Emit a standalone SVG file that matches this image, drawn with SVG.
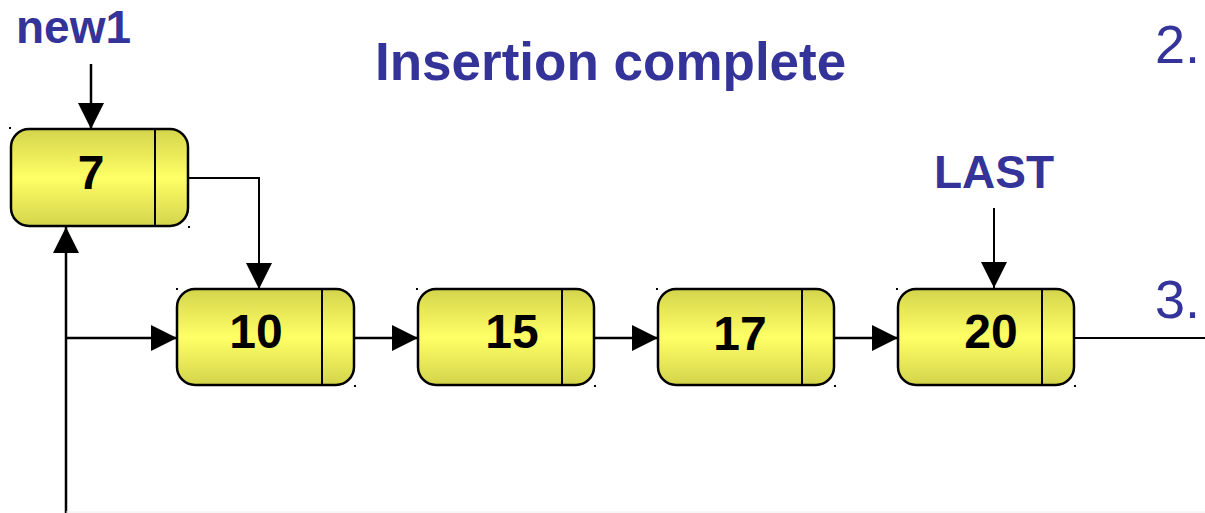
<svg xmlns="http://www.w3.org/2000/svg" width="1205" height="513" viewBox="0 0 1205 513">
  <style>
    .title { font-family: "Liberation Sans", Arial, sans-serif; font-weight: bold; fill: #333399; }
    .num { font-family: "Liberation Sans", Arial, sans-serif; font-size: 54px; fill: #333399; }
    .box { fill: url(#cellFill); stroke: #000; stroke-width: 2.5; }
    .div { stroke: #000; stroke-width: 2; }
    .val { font-family: "Liberation Sans", Arial, sans-serif; font-weight: bold; font-size: 48px; fill: #000; text-anchor: middle; }
    .link { fill: none; stroke: #000; stroke-width: 2.5; }
    .thin { fill: none; stroke: #000; stroke-width: 2; }
    .dot { fill: #000; }
  </style>
  <defs>
    <linearGradient id="cellFill" x1="0" y1="0" x2="0" y2="1">
      <stop offset="0" stop-color="#d4d44c"/>
      <stop offset="0.5" stop-color="#ffff66"/>
      <stop offset="1" stop-color="#d4d44c"/>
    </linearGradient>
    <marker id="head" markerUnits="userSpaceOnUse" markerWidth="26" markerHeight="26" refX="26" refY="13" orient="auto">
      <path d="M0,0 L26,13 L0,26 z" fill="#000"/>
    </marker>
  </defs>

  <rect width="1205" height="513" fill="#fff"/>

  <!-- labels -->
  <text class="title" x="16" y="43" font-size="46">new1</text>
  <text class="title" x="375" y="80" font-size="53">Insertion complete</text>
  <text class="title" x="934" y="188" font-size="46">LAST</text>
  <text class="num" x="1155" y="63">2.</text>
  <text class="num" x="1155" y="318">3.</text>

  <!-- connectors -->
  <g id="connectors">
    <line class="link" x1="91" y1="64" x2="91" y2="129" marker-end="url(#head)"/>
    <polyline class="thin" points="188,178 259,178 259,289" marker-end="url(#head)"/>
    <line class="link" x1="66" y1="513" x2="66" y2="227" marker-end="url(#head)"/>
    <line class="link" x1="66" y1="338" x2="177" y2="338" marker-end="url(#head)"/>
    <line class="link" x1="354" y1="338" x2="418" y2="338" marker-end="url(#head)"/>
    <line class="link" x1="594" y1="338" x2="658" y2="338" marker-end="url(#head)"/>
    <line class="link" x1="834" y1="338" x2="898" y2="338" marker-end="url(#head)"/>
    <line class="thin" x1="994" y1="208" x2="994" y2="288" marker-end="url(#head)"/>
    <line class="thin" x1="1074" y1="338" x2="1205" y2="338"/>
    <line x1="66" y1="512" x2="1205" y2="512" stroke="#eeeeee" stroke-width="1"/>
  </g>

  <!-- list cells -->
  <g id="node-7">
    <rect class="box" x="11" y="129" width="177" height="97" rx="18"/>
    <line class="div" x1="155" y1="129" x2="155" y2="226"/>
    <text class="val" x="91" y="189">7</text>
    <rect class="dot" x="9" y="127" width="2" height="2"/>
    <rect class="dot" x="188" y="226" width="2" height="2"/>
  </g>
  <g id="node-10">
    <rect class="box" x="177" y="289" width="177" height="96" rx="18"/>
    <line class="div" x1="322" y1="289" x2="322" y2="385"/>
    <text class="val" x="256" y="348">10</text>
    <rect class="dot" x="176" y="288" width="2" height="2"/>
    <rect class="dot" x="354" y="385" width="2" height="2"/>
  </g>
  <g id="node-15">
    <rect class="box" x="418" y="289" width="176" height="96" rx="18"/>
    <line class="div" x1="562" y1="289" x2="562" y2="385"/>
    <text class="val" x="512" y="348">15</text>
    <rect class="dot" x="416" y="288" width="2" height="2"/>
    <rect class="dot" x="594" y="385" width="2" height="2"/>
  </g>
  <g id="node-17">
    <rect class="box" x="658" y="289" width="176" height="96" rx="18"/>
    <line class="div" x1="802" y1="289" x2="802" y2="385"/>
    <text class="val" x="740" y="350">17</text>
    <rect class="dot" x="656" y="288" width="2" height="2"/>
    <rect class="dot" x="834" y="385" width="2" height="2"/>
  </g>
  <g id="node-20">
    <rect class="box" x="898" y="289" width="176" height="96" rx="18"/>
    <line class="div" x1="1042" y1="289" x2="1042" y2="385"/>
    <text class="val" x="991" y="348">20</text>
    <rect class="dot" x="896" y="288" width="2" height="2"/>
    <rect class="dot" x="1074" y="385" width="2" height="2"/>
  </g>
</svg>
